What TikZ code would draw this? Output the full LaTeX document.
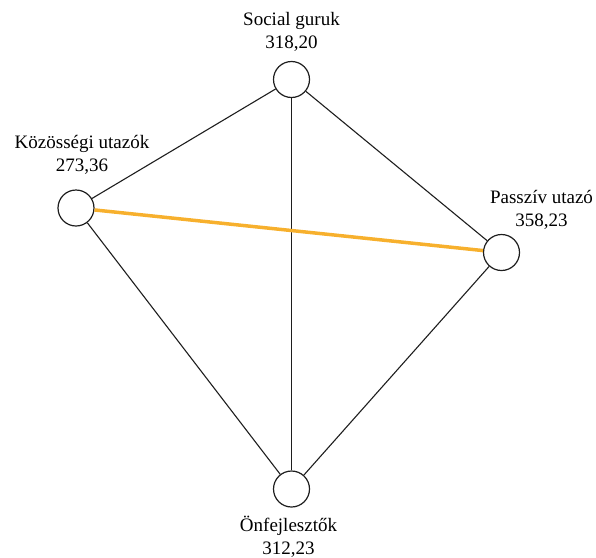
\documentclass[tikz,border=0pt]{standalone}
\usepackage{fontspec}
\setmainfont{Liberation Serif}
\usepackage{xcolor}
\usetikzlibrary{positioning}
\definecolor{EdgeDark}{RGB}{30, 30, 30}
\definecolor{EdgeOrange}{RGB}{247, 176, 45}

\tikzset{
  segment/.style={circle, draw=EdgeDark, fill=white, line width=1.2pt, minimum size=36pt, inner sep=0pt},
  seglabel/.style={align=center, inner sep=0pt, font=\fontsize{19}{23}\selectfont},
  link/.style={draw=EdgeDark, line width=1.1pt},
  strong link/.style={draw=EdgeOrange, line width=3.5pt}
}

\begin{document}
\begin{tikzpicture}[x=1pt, y=-1pt]
    \useasboundingbox (0,0) rectangle (596,557);
    % segments
    \node[segment] (social) at (291.5,79.5) {};
    \node[segment] (kozossegi) at (76,208) {};
    \node[segment] (passziv) at (501.5,252.5) {};
    \node[segment] (onfejl) at (291.5,489) {};
    % labels
    \node[seglabel, above=9pt of social] (socialL) {Social guruk\\318,20};
    \node[seglabel, above=15pt of kozossegi, xshift=6pt] (kozossegiL) {Közösségi utazók\\273,36};
    \node[seglabel, above=4pt of passziv, xshift=40pt] (passzivL) {Passzív utazó\\358,23};
    \node[seglabel, below=8pt of onfejl, xshift=-3pt] (onfejlL) {Önfejlesztők\\312,23};
    % connections
    \draw[link] (social) -- (kozossegi);
    \draw[link] (social) -- (passziv);
    \draw[link] (social) -- (onfejl);
    \draw[link] (kozossegi) -- (onfejl);
    \draw[link] (passziv) -- (onfejl);
    \draw[strong link] (kozossegi) -- (passziv);
\end{tikzpicture}
\end{document}
